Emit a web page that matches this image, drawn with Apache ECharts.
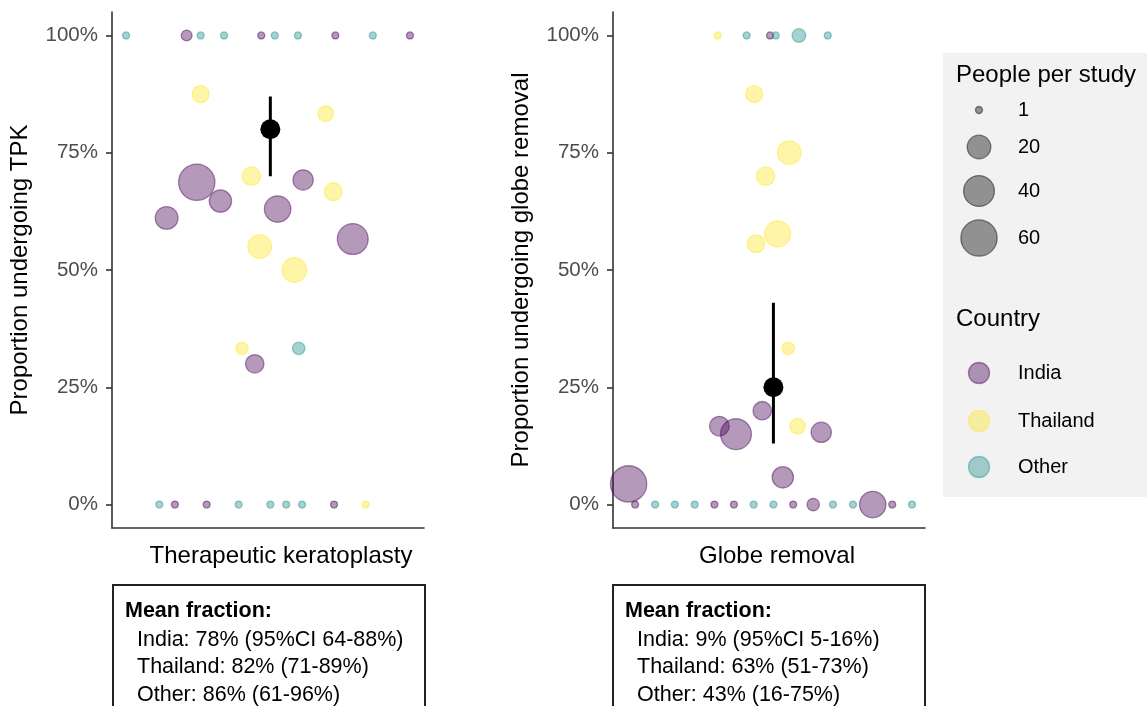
<!DOCTYPE html>
<html lang="en">
<head>
<meta charset="UTF-8">
<title>TPK and globe removal</title>
<script src="https://cdn.jsdelivr.net/npm/echarts@6/dist/echarts.min.js"></script>
<style>
  body { margin: 0; background: #fff; }
  #main { width: 1147px; height: 706px; }
</style>
</head>
<body>
<div id="main"></div>
<script>
// each point: [jitter offset, percent, people in study]
var tpkIndia = [[-0.313, 100, 2], [-0.026, 100, 1], [0.259, 100, 1], [0.546, 100, 1],
  [-0.274, 68.7, 60], [-0.183, 64.7, 17], [-0.390, 61.1, 18], [0.135, 69.2, 13],
  [0.037, 63.0, 27], [0.326, 56.6, 40], [-0.051, 30.0, 10],
  [-0.358, 0, 1], [-0.236, 0, 1], [0.254, 0, 1]];
var tpkThailand = [[-0.259, 87.5, 8], [0.222, 83.3, 6], [-0.064, 70.0, 10], [0.251, 66.7, 9],
  [-0.032, 55.0, 20], [0.101, 50.0, 22], [-0.100, 33.3, 3], [0.376, 0, 1]];
var tpkOther = [[-0.546, 100, 1], [-0.259, 100, 1], [-0.169, 100, 1], [0.026, 100, 1],
  [0.115, 100, 1], [0.403, 100, 1], [0.118, 33.3, 3],
  [-0.418, 0, 1], [-0.113, 0, 1], [0.009, 0, 1], [0.070, 0, 1], [0.131, 0, 1]];

var globeIndia = [[0.004, 100, 1], [-0.026, 20.0, 10], [-0.191, 16.7, 12], [-0.127, 15.0, 40],
  [0.201, 15.4, 13], [0.053, 5.8, 15], [-0.540, 4.4, 60],
  [-0.515, 0, 1], [-0.210, 0, 1], [-0.135, 0, 1], [0.093, 0, 1], [0.170, 0, 3],
  [0.399, 0, 27], [0.474, 0, 1]];
var globeThailand = [[-0.197, 100, 1], [-0.057, 87.5, 8], [0.078, 75.0, 20], [-0.013, 70.0, 10],
  [0.033, 57.7, 26], [-0.050, 55.6, 9], [0.074, 33.3, 3], [0.110, 16.7, 6]];
var globeOther = [[-0.086, 100, 1], [0.026, 100, 1], [0.115, 100, 4], [0.226, 100, 1],
  [-0.438, 0, 1], [-0.362, 0, 1], [-0.286, 0, 1], [-0.059, 0, 1], [0.017, 0, 1],
  [0.246, 0, 1], [0.323, 0, 1], [0.550, 0, 1]];

// pooled estimate: [jitter, mean, lower, upper]
var tpkMean = [0.009, 80, 70, 87];
var globeMean = [0.017, 25, 13, 43];

var tickValues = [0, 25, 50, 75, 100];
var countries = ['India', 'Thailand', 'Other'];
var countryColors = ['68,1,84', '253,231,37', '33,144,140'];
var sizeBreaks = [1, 20, 40, 60];

var tpkText = ['India: 78% (95%CI 64-88%)', 'Thailand: 82% (71-89%)', 'Other: 86% (61-96%)'];
var globeText = ['India: 9% (95%CI 5-16%)', 'Thailand: 63% (51-73%)', 'Other: 43% (16-75%)'];

var FONT = 'Liberation Sans, Arial, sans-serif';

function dotSize(n) {
  return 7 + 3.82 * Math.sqrt(n - 1);
}

function xAxisFor(idx, title, shift) {
  return {
    gridIndex: idx, type: 'value', min: -0.6, max: 0.6,
    name: title, nameLocation: 'middle', nameGap: 16,
    nameTextStyle: { fontSize: 24, color: '#000', fontFamily: FONT, padding: [0, 0, 0, shift] },
    axisLine: { show: true, onZero: false, lineStyle: { color: '#333', width: 1.6 } },
    axisTick: { show: false }, axisLabel: { show: false }, splitLine: { show: false }
  };
}

function yAxisFor(idx, title) {
  return {
    gridIndex: idx, type: 'value', min: -5, max: 105,
    name: title, nameLocation: 'middle', nameGap: 80,
    nameTextStyle: { fontSize: 24, color: '#000', fontFamily: FONT },
    axisLine: { show: true, onZero: false, lineStyle: { color: '#333', width: 1.6 } },
    axisTick: { show: true, length: 6, customValues: tickValues, lineStyle: { color: '#333', width: 1.6 } },
    axisLabel: {
      margin: 14, fontSize: 20.5, color: '#4d4d4d', fontFamily: FONT,
      customValues: tickValues,
      formatter: function (v) { return v + '%'; }
    },
    splitLine: { show: false }
  };
}

function pointSeries(idx, name, data, rgb) {
  return {
    name: name, type: 'scatter', xAxisIndex: idx, yAxisIndex: idx,
    data: data, z: 2,
    symbolSize: function (v) { return dotSize(v[2]); },
    itemStyle: { color: 'rgba(' + rgb + ',0.4)', borderColor: 'rgba(' + rgb + ',0.45)', borderWidth: 1.3, opacity: 1 },
    emphasis: { disabled: true }
  };
}

function meanSeries(idx, m) {
  return [{
    type: 'line', xAxisIndex: idx, yAxisIndex: idx, z: 3,
    data: [[m[0], m[2]], [m[0], m[3]]],
    showSymbol: false, silent: true,
    lineStyle: { color: '#000', width: 3 }
  }, {
    type: 'scatter', xAxisIndex: idx, yAxisIndex: idx, z: 4,
    data: [[m[0], m[1]]], symbolSize: 20,
    itemStyle: { color: '#000', opacity: 1 }, silent: true
  }];
}

var series = [];
[[tpkIndia, tpkThailand, tpkOther], [globeIndia, globeThailand, globeOther]].forEach(function (sets, idx) {
  sets.forEach(function (d, k) {
    series.push(pointSeries(idx, countries[k], d, countryColors[k]));
  });
});
series = series.concat(meanSeries(0, tpkMean), meanSeries(1, globeMean));

// legend and text boxes
var graphics = [];
graphics.push({ type: 'rect', shape: { x: 943, y: 53, width: 210, height: 444 }, style: { fill: '#f2f2f2' } });
graphics.push({ type: 'text', x: 956, y: 75, style: { text: 'People per study', font: '24px ' + FONT, fill: '#000', textVerticalAlign: 'middle' } });
var sizeY = [110, 147, 191, 238];
sizeBreaks.forEach(function (n, i) {
  graphics.push({ type: 'circle', shape: { cx: 979, cy: sizeY[i], r: dotSize(n) / 2 },
    style: { fill: 'rgba(0,0,0,0.4)', stroke: 'rgba(0,0,0,0.45)', lineWidth: 1.3 } });
  graphics.push({ type: 'text', x: 1018, y: sizeY[i], style: { text: String(n), font: '20px ' + FONT, fill: '#000', textVerticalAlign: 'middle' } });
});
graphics.push({ type: 'text', x: 956, y: 319, style: { text: 'Country', font: '24px ' + FONT, fill: '#000', textVerticalAlign: 'middle' } });
var countryY = [373, 421, 467];
countries.forEach(function (c, i) {
  graphics.push({ type: 'circle', shape: { cx: 979, cy: countryY[i], r: 10.5 },
    style: { fill: 'rgba(' + countryColors[i] + ',0.4)', stroke: 'rgba(' + countryColors[i] + ',0.45)', lineWidth: 1.3 } });
  graphics.push({ type: 'text', x: 1018, y: countryY[i], style: { text: c, font: '20px ' + FONT, fill: '#000', textVerticalAlign: 'middle' } });
});

function textBox(left, lines) {
  graphics.push({ type: 'rect', shape: { x: left, y: 585, width: 312, height: 140 },
    style: { fill: '#fff', stroke: '#222', lineWidth: 2 } });
  graphics.push({ type: 'text', x: left + 12, y: 611, style: { text: 'Mean fraction:', font: 'bold 21.5px ' + FONT, fill: '#000', textVerticalAlign: 'middle' } });
  var ly = [640, 667, 695];
  lines.forEach(function (t, i) {
    graphics.push({ type: 'text', x: left + 24, y: ly[i], style: { text: t, font: '21.5px ' + FONT, fill: '#000', textVerticalAlign: 'middle' } });
  });
}
textBox(113, tpkText);
textBox(613, globeText);

var chart = echarts.init(document.getElementById('main'));
chart.setOption({
  animation: false,
  textStyle: { fontFamily: FONT },
  grid: [
    { left: 112, top: 12, width: 312, height: 516 },
    { left: 613, top: 12, width: 312, height: 516 }
  ],
  xAxis: [xAxisFor(0, 'Therapeutic keratoplasty', 26), xAxisFor(1, 'Globe removal', 16)],
  yAxis: [yAxisFor(0, 'Proportion undergoing TPK'), yAxisFor(1, 'Proportion undergoing globe removal')],
  series: series,
  graphic: graphics
});
</script>
</body>
</html>
